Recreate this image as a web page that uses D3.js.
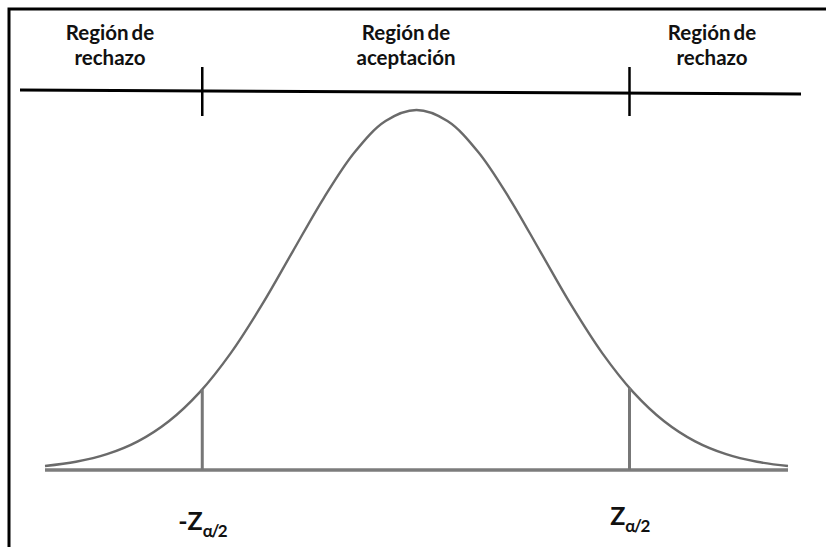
<!DOCTYPE html>
<html>
<head>
<meta charset="utf-8">
<script src="https://cdn.jsdelivr.net/npm/d3@7"></script>
<style>
  html, body { margin: 0; background: #fff; overflow: hidden; }
  svg { display: block; }
</style>
</head>
<body>
<script>
// z values and curve heights (density)
var zValues = [-3, -2.75, -2.5, -2.25, -2, -1.75, -1.5, -1.25, -1, -0.75, -0.5, -0.25, 0,
               0.25, 0.5, 0.75, 1, 1.25, 1.5, 1.75, 2, 2.25, 2.5, 2.75, 3];
var density = [0.0044, 0.0091, 0.0175, 0.0317, 0.054, 0.0863, 0.1295, 0.1826, 0.242, 0.3011, 0.3521, 0.3867, 0.3989,
               0.3867, 0.3521, 0.3011, 0.242, 0.1826, 0.1295, 0.0863, 0.054, 0.0317, 0.0175, 0.0091, 0.0044];

// critical values
var critZ = [-1.73, 1.72];
var critHeight = [0.0894, 0.0909];
var critLabels = ["-Z", "Z"];

// region labels (two lines each)
var regionLines = [
  ["Región de", "rechazo"],
  ["Región de", "aceptación"],
  ["Región de", "rechazo"]
];

var w = 826;
var h = 547;

var svg = d3.select("body")
  .append("svg")
  .attr("width", w)
  .attr("height", h);

// frame: only the left and top edges show
svg.append("path")
  .attr("d", "M9," + h + "V9H" + w)
  .attr("fill", "none")
  .attr("stroke", "#000")
  .attr("stroke-width", 3);

// scales
var xScale = d3.scaleLinear()
  .domain([-3, 3])
  .range([45, 788]);

var yScale = d3.scaleLinear()
  .domain([0, 0.3989])
  .range([470, 110]);

// top region line
svg.append("line")
  .attr("x1", 20).attr("y1", 90)
  .attr("x2", 801).attr("y2", 94)
  .attr("stroke", "#000")
  .attr("stroke-width", 3);

// ticks on top line
svg.selectAll(".tick")
  .data(critZ)
  .enter()
  .append("line")
  .attr("class", "tick")
  .attr("x1", function (d) { return xScale(d); })
  .attr("x2", function (d) { return xScale(d); })
  .attr("y1", 67)
  .attr("y2", 116)
  .attr("stroke", "#000")
  .attr("stroke-width", 2.5);

// region labels
var labelX = [110, 406, 712];
var labels = svg.selectAll(".region")
  .data(regionLines)
  .enter()
  .append("text")
  .attr("class", "region")
  .attr("text-anchor", "middle")
  .attr("font-family", "Lato, 'Open Sans', sans-serif")
  .attr("font-weight", "bold")
  .attr("font-size", "20.5px")
  .attr("word-spacing", "-2px")
  .attr("fill", "#111");

labels.selectAll("tspan")
  .data(function (d, i) { return d.map(function (t) { return { t: t, i: i }; }); })
  .enter()
  .append("tspan")
  .attr("x", function (d) { return labelX[d.i]; })
  .attr("y", function (d, j) { return 40 + j * 25; })
  .text(function (d) { return d.t; });

// baseline
svg.append("line")
  .attr("x1", xScale(-3)).attr("y1", yScale(0))
  .attr("x2", xScale(3)).attr("y2", yScale(0))
  .attr("stroke", "#7c7c7c")
  .attr("stroke-width", 3.5);

// curve
var line = d3.line()
  .x(function (d, i) { return xScale(zValues[i]); })
  .y(function (d) { return yScale(d); })
  .curve(d3.curveCatmullRom);

svg.append("path")
  .datum(density)
  .attr("d", line)
  .attr("fill", "none")
  .attr("stroke", "#6a6a6a")
  .attr("stroke-width", 2.4);

// vertical lines at critical values
svg.selectAll(".crit")
  .data(critZ)
  .enter()
  .append("line")
  .attr("class", "crit")
  .attr("x1", function (d) { return xScale(d); })
  .attr("x2", function (d) { return xScale(d); })
  .attr("y1", yScale(0))
  .attr("y2", function (d, i) { return yScale(critHeight[i]); })
  .attr("stroke", "#777")
  .attr("stroke-width", 3);

// critical value labels
var critLabelY = [530, 525];
var zl = svg.selectAll(".zlabel")
  .data(critLabels)
  .enter()
  .append("text")
  .attr("class", "zlabel")
  .attr("text-anchor", "middle")
  .attr("x", function (d, i) { return xScale(critZ[i]); })
  .attr("y", function (d, i) { return critLabelY[i]; })
  .attr("font-family", "Lato, 'Open Sans', sans-serif")
  .attr("font-weight", "bold")
  .attr("font-size", "25px")
  .attr("fill", "#111");

zl.append("tspan").text(function (d) { return d; });
zl.append("tspan")
  .attr("font-size", "17px")
  .attr("font-weight", "bold")
  .attr("letter-spacing", "-1.5px")
  .attr("dy", 7)
  .text("α/2");
</script>
</body>
</html>
